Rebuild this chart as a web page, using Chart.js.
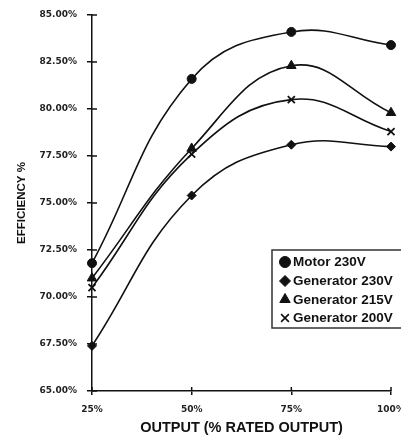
<!DOCTYPE html>
<html>
<head>
<meta charset="utf-8">
<script src="https://cdn.jsdelivr.net/npm/chart.js@4/dist/chart.umd.min.js"></script>
<style>
  html, body { margin: 0; padding: 0; background: #fff; }
  #wrap { width: 401px; height: 440px; position: relative; }
</style>
</head>
<body>
<div id="wrap"><canvas id="grafica"></canvas></div>
<script>
// datos
const salidas = ['25%', '50%', '75%', '100%'];
const motor230 = [71.8, 81.6, 84.1, 83.4];
const gen230 = [67.4, 75.4, 78.1, 78.0];
const gen215 = [71.0, 77.9, 82.3, 79.8];
const gen200 = [70.5, 77.6, 80.5, 78.8];
const yMin = 65, yMax = 85, yPaso = 2.5;

const negro = '#111';

function serie(label, data, estilo, radio) {
    return {
        label: label,
        data: data,
        borderColor: negro,
        backgroundColor: negro,
        borderWidth: 1.6,
        tension: 0.42,
        pointStyle: estilo,
        pointRadius: radio,
        pointBorderWidth: estilo === 'crossRot' ? 1.8 : 1,
        pointBorderColor: negro,
        pointBackgroundColor: negro
    };
}

// ticks que cruzan el eje + leyenda dentro del area
const extras = {
    id: 'extras',
    afterDraw(chart) {
        const ctx = chart.ctx;
        const x = chart.scales.x, y = chart.scales.y;
        const area = chart.chartArea;
        ctx.save();
        ctx.strokeStyle = negro;
        ctx.lineWidth = 1.5;
        y.ticks.forEach(t => {
            const py = y.getPixelForValue(t.value);
            ctx.beginPath();
            ctx.moveTo(area.left, py);
            ctx.lineTo(area.left + 5, py);
            ctx.stroke();
        });
        x.ticks.forEach((t, i) => {
            const px = x.getPixelForTick(i);
            ctx.beginPath();
            ctx.moveTo(px, area.bottom);
            ctx.lineTo(px, area.bottom - 4);
            ctx.stroke();
        });

        // leyenda
        const lx = 272, ly = 250, lw = 140, lh = 78;
        ctx.fillStyle = '#fff';
        ctx.fillRect(lx, ly, lw, lh);
        ctx.lineWidth = 1.5;
        ctx.strokeStyle = '#333';
        ctx.strokeRect(lx, ly, lw, lh);
        ctx.font = 'bold 13.5px "Liberation Sans", Arial, sans-serif';
        ctx.textBaseline = 'middle';
        const filas = [262, 281, 299.5, 318];
        chart.data.datasets.forEach((ds, i) => {
            ctx.fillStyle = negro;
            ctx.strokeStyle = negro;
            ctx.lineWidth = ds.pointStyle === 'crossRot' ? 1.6 : 1;
            Chart.helpers.drawPoint(ctx, {
                pointStyle: ds.pointStyle,
                radius: ds.pointStyle === 'triangle' ? 6 : 5.5,
                borderWidth: ctx.lineWidth
            }, 285, filas[i]);
            ctx.fillStyle = negro;
            ctx.fillText(ds.label, 293, filas[i] + 0.5);
        });
        ctx.restore();
    }
};

const config = {
    type: 'line',
    data: {
        labels: salidas,
        datasets: [
            serie('Motor 230V', motor230, 'circle', 4.5),
            serie('Generator 230V', gen230, 'rectRot', 4.5),
            serie('Generator 215V', gen215, 'triangle', 5.5),
            serie('Generator 200V', gen200, 'crossRot', 5)
        ]
    },
    options: {
        responsive: true,
        maintainAspectRatio: false,
        animation: false,
        layout: { padding: { top: 15, right: 10, left: 0, bottom: 0 } },
        plugins: {
            legend: { display: false },
            tooltip: { enabled: false }
        },
        scales: {
            x: {
                offset: false,
                grid: { drawOnChartArea: false, color: negro, tickLength: 4, lineWidth: 1.5 },
                border: { color: negro, width: 1.5 },
                ticks: {
                    color: '#222',
                    padding: 9,
                    maxRotation: 0,
                    font: { family: '"DejaVu Sans", sans-serif', weight: 'bold', size: 9 }
                },
                title: {
                    display: true,
                    text: 'OUTPUT (% RATED OUTPUT)',
                    color: '#111',
                    padding: { top: 0, bottom: 3 },
                    font: { family: '"Liberation Sans", Arial, sans-serif', weight: 'bold', size: 14.5 }
                },
                afterFit(scale) {
                    scale.height = 49;
                    scale.paddingLeft = 0;
                    scale.paddingRight = 0;
                }
            },
            y: {
                min: yMin,
                max: yMax,
                grid: { drawOnChartArea: false, color: negro, tickLength: 5, lineWidth: 1.5 },
                border: { color: negro, width: 1.5 },
                ticks: {
                    stepSize: yPaso,
                    color: '#222',
                    padding: 10,
                    font: { family: '"DejaVu Sans", sans-serif', weight: 'bold', size: 9 },
                    callback: v => v.toFixed(2) + '%'
                },
                title: {
                    display: true,
                    text: 'EFFICIENCY %',
                    color: '#111',
                    padding: { top: 15, bottom: 0 },
                    font: { family: '"Liberation Sans", Arial, sans-serif', weight: 'bold', size: 11.5 }
                },
                afterFit(scale) {
                    scale.width = 92;
                    scale.paddingTop = 0;
                    scale.paddingBottom = 0;
                }
            }
        }
    },
    plugins: [extras]
};

new Chart(document.getElementById('grafica'), config);
</script>
</body>
</html>
